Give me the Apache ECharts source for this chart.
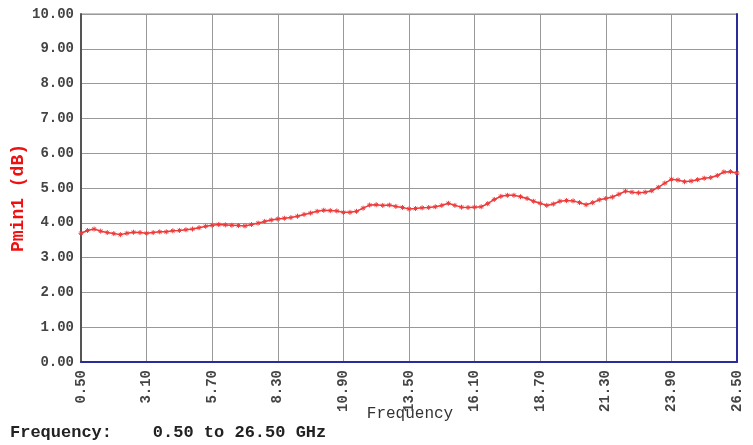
<!DOCTYPE html>
<html>
<head>
<meta charset="utf-8">
<script src="https://cdn.jsdelivr.net/npm/echarts@6/dist/echarts.min.js"></script>
<style>
  html, body { margin: 0; padding: 0; background: #fff; }
  #chart-container { width: 753px; height: 445px; }
</style>
</head>
<body>
<div id="chart-container"></div>
<script>
// frequency sweep, GHz
let freqStart = 0.5;
let freqStep = 0.26;
let yTicks = [0, 1, 2, 3, 4, 5, 6, 7, 8, 9, 10];
// Pmin1 (dB), one value per 0.26 GHz step
let pmin1 = [
    3.70, 3.78, 3.82, 3.76, 3.72, 3.69, 3.66, 3.70, 3.73, 3.72,
    3.70, 3.72, 3.74, 3.74, 3.77, 3.78, 3.80, 3.82, 3.86, 3.90,
    3.93, 3.95, 3.94, 3.93, 3.92, 3.91, 3.95, 3.99, 4.04, 4.08,
    4.11, 4.13, 4.15, 4.19, 4.24, 4.28, 4.33, 4.36, 4.35, 4.34,
    4.30, 4.30, 4.33, 4.42, 4.51, 4.52, 4.50, 4.51, 4.47, 4.44,
    4.40, 4.41, 4.43, 4.44, 4.46, 4.50, 4.56, 4.50, 4.45, 4.44,
    4.45, 4.46, 4.55, 4.67, 4.76, 4.79, 4.79, 4.75, 4.70, 4.62,
    4.56, 4.50, 4.54, 4.62, 4.64, 4.63, 4.58, 4.52, 4.58, 4.66,
    4.70, 4.74, 4.82, 4.91, 4.88, 4.86, 4.88, 4.92, 5.02, 5.14,
    5.25, 5.23, 5.18, 5.20, 5.24, 5.28, 5.30, 5.36, 5.46, 5.47,
    5.43
];

let dom = document.getElementById("chart-container");
let myChart = echarts.init(dom, null, {
    renderer: "canvas",
    useDirtyRect: false,
});

// x is plotted as offset from 0.50 GHz so ticks start at a multiple of the interval
let seriesData = pmin1.map(function (v, i) {
    return [+(i * freqStep).toFixed(2), v];
});

let mono = "'Liberation Mono', 'DejaVu Sans Mono', monospace";

let option = {
    backgroundColor: "#fff",
    animation: false,
    grid: {
        left: 81,
        right: 16,
        top: 14,
        bottom: 83,
        show: true,
        borderColor: "#8a8a8a",
        borderWidth: 1,
    },
    xAxis: {
        type: "value",
        min: 0,
        max: 26,
        interval: 2.6,
        axisLine: { show: true, onZero: false, lineStyle: { color: "#2b2b9c", width: 2 } },
        axisTick: { show: false },
        splitLine: { show: true, lineStyle: { color: "#999", width: 1 } },
        axisLabel: {
            rotate: 90,
            margin: 8,
            fontFamily: mono,
            fontWeight: "bold",
            fontSize: 14,
            color: "#444",
            formatter: function (v) {
                return (v + freqStart).toFixed(2);
            },
        },
    },
    yAxis: [{
        type: "value",
        min: yTicks[0],
        max: yTicks[yTicks.length - 1],
        interval: 1,
        axisLine: { show: true, lineStyle: { color: "#555", width: 2 } },
        axisTick: { show: false },
        splitLine: { show: true, lineStyle: { color: "#999", width: 1 } },
        axisLabel: {
            margin: 7,
            fontFamily: mono,
            fontWeight: "bold",
            fontSize: 14,
            color: "#444",
            formatter: function (v) {
                return v.toFixed(2);
            },
        },
    }, {
        type: "value",
        position: "right",
        min: 0,
        max: 10,
        interval: 1,
        axisLine: { show: true, lineStyle: { color: "#2b2b9c", width: 2 } },
        axisTick: { show: false },
        axisLabel: { show: false },
        splitLine: { show: false },
    }],
    graphic: [{
        type: "text",
        x: 410,
        y: 414,
        style: {
            text: "Frequency",
            font: "16px " + mono,
            fill: "#333",
            align: "center",
            verticalAlign: "middle",
        },
    }, {
        type: "text",
        left: 10,
        top: 424,
        style: {
            text: "Frequency:    0.50 to 26.50 GHz",
            font: "bold 17px " + mono,
            fill: "#222",
        },
    }, {
        type: "text",
        x: 18,
        y: 198,
        rotation: Math.PI / 2,
        style: {
            text: "Pmin1 (dB)",
            font: "bold 18px " + mono,
            fill: "#f01010",
            align: "center",
            verticalAlign: "middle",
        },
    }],
    series: [{
        name: "Pmin1",
        type: "line",
        data: seriesData,
        symbol: "path://M0,5L10,5M5,0L5,10M1.5,1.5L8.5,8.5M8.5,1.5L1.5,8.5",
        symbolSize: 5,
        showSymbol: true,
        lineStyle: { color: "#ee3a3a", width: 1.5 },
        itemStyle: { color: "#ee3a3a", borderColor: "#ee3a3a", borderWidth: 1 },
    }],
};

if (option && typeof option === "object") {
    myChart.setOption(option);
}

window.addEventListener("resize", myChart.resize);
</script>
</body>
</html>
